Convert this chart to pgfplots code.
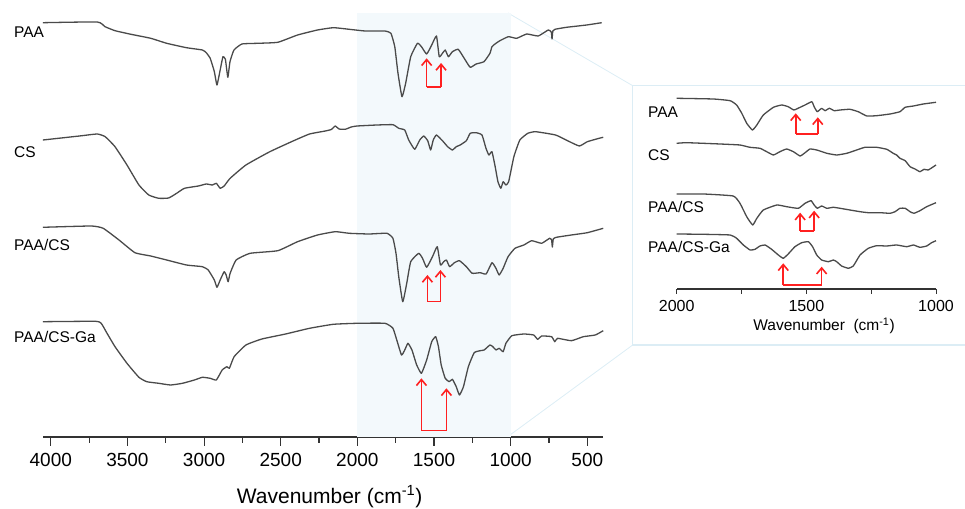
\documentclass[border=0pt]{standalone}
\usepackage{fontspec}
\setmainfont{Liberation Sans}
\usepackage{pgfplots}
\pgfplotsset{compat=1.18}
\usetikzlibrary{arrows.meta}
\definecolor{shadec}{HTML}{F3F9FC}
\definecolor{boxc}{HTML}{DCEDF5}
\definecolor{specc}{HTML}{4A4A4A}
\definecolor{axc}{HTML}{333333}
\definecolor{arrc}{HTML}{FF2020}
\tikzset{
  spec/.style={draw=specc, line width=1.3pt, line join=round, no marks, smooth, tension=0.25},
  arrline/.style={draw=arrc, line width=1.6pt},
  arrhead/.style={draw=arrc, line width=1.6pt, -{Straight Barb[length=6pt,width=10pt]}},
  lab/.style={inner sep=0pt, anchor=base west, font=\fontsize{15.5}{17}\selectfont},
}
\newcommand{\twoarrows}[5]{%
  \draw[arrline] (axis cs:#1,#4) -- (axis cs:#2,#4);
  \draw[arrhead] (axis cs:#1,#4) -- (axis cs:#1,#3);
  \draw[arrhead] (axis cs:#2,#4) -- (axis cs:#2,#5);
}
\begin{document}
\begin{tikzpicture}[x=1pt,y=1pt]
\useasboundingbox (0,0) rectangle (965,508);
% connectors and inset frame
\draw[boxc, line width=0.8pt] (508,495) -- (632.7,422.3);
\draw[boxc, line width=0.8pt] (510,73) -- (632.7,163);
\draw[boxc, line width=1.3pt] (632.7,163) rectangle (985,422.3);

\begin{axis}[
  at={(42.9pt,71pt)}, anchor=south west, scale only axis,
  width=560.1pt, height=424pt,
  xmin=397.6, xmax=4051.5, ymin=0, ymax=424, x dir=reverse,
  axis y line=none, axis x line*=bottom,
  x axis line style={-, draw=axc, line width=1.3pt},
  xtick={500,1000,...,4000}, minor x tick num=1,
  tick align=outside, major tick length=9pt, minor tick length=6pt,
  tick style={draw=axc, line width=1.1pt},
  xticklabel style={font=\fontsize{19}{21}\selectfont, yshift=-4pt},
  /pgf/number format/assume math mode=true,
  /pgf/number format/1000 sep={},
  clip=false,
]
\fill[shadec] (axis cs:2000,0) rectangle (axis cs:1000,424);
% PAA
\addplot[spec] table {
4051.5 414.3
3697 415
3646 410.3
3581 406.3
3477 402.7
3348 398.7
3244 393.7
3115 389.3
3011 387
2986 384.3
2960 378.7
2933 365.3
2916 352
2895 367
2877 380.3
2861 377.7
2845 359.7
2831 375.3
2805 387
2753 393
2648 393.7
2519 394.7
2390 402
2260 407
2157 409.3
2053 407.7
1950 406
1820 406
1781 403.7
1756 390.3
1735 363.7
1709 340.3
1685 353.7
1652 380.3
1608 393.7
1582 390.3
1548 383
1515 392
1484 401
1466 380.3
1445 383.7
1427 387
1406 380.3
1380 385.3
1342 387.7
1303 378.7
1264 369.7
1225 373
1174 375.3
1135 383.7
1122 390.3
1096 393.7
1070 396.3
1015 400.3
961 398.7
895 403
820 401
755 407
735 405
730 398
725 406
711 407.7
635 409.7
504 412
406 414.3
};
% CS
\addplot[spec] table {
4051.5 297
3813 301
3697 303
3645 300.3
3581 290.3
3503 272
3425 252
3361 242
3296 238.7
3231 239
3179 243.7
3128 248.7
3037 251
2986 253
2946 252
2920 253.7
2895 248.7
2869 251
2830 258.7
2727 272
2571 285.3
2415 296.3
2312 303
2209 306
2170 307.5
2144 311
2120 308
2079 307.7
2040 310
2002 311
1872 312
1768 312.3
1730 308.7
1691 307
1665 297
1626 287.7
1593 297
1567 301
1541 296.3
1522 287
1505 297
1484 302
1445 296.3
1411 290.3
1380 287
1355 290.3
1329 292
1289 296.3
1264 303.7
1225 304.3
1187 302
1161 288.7
1142 282
1122 285.3
1101 270.3
1083 255.3
1064 248.7
1049 255.3
1031 252
1013 255.3
979 280.3
940 297
888 303.7
837 305.3
707 302
629 296.3
552 291
500 295.3
423 298.7
396 299.7
};
% PAA/CS
\addplot[spec] table {
4051.5 209.7
3736 211
3658 208.7
3555 197
3451 184.3
3348 181
3244 177
3115 172
3011 170.3
2973 167
2933 157
2916 149.7
2895 157
2869 165.3
2856 162
2843 155.3
2830 163.7
2791 177
2700 183.7
2519 186.3
2390 195.3
2260 202
2144 205.3
2053 203.7
1924 203
1807 203.7
1768 198.7
1748 183.7
1730 160.3
1704 135.3
1678 153.7
1652 175.3
1600 183.7
1575 178.7
1548 169.7
1510 180.3
1479 190.3
1458 172
1437 175.3
1419 177
1398 170.3
1367 174.3
1334 176.3
1289 170.3
1251 163.7
1199 164.3
1160 163
1122 174.3
1096 168.7
1075 162
1049 168.7
1017 180.3
972 188.7
914 192
863 196.3
798 193.7
746 198.7
733 197
728 190
722 198
702 199.7
604 202
500 204.3
396 208.7
};
% PAA/CS-Ga
\addplot[spec] table {
4051.5 115.3
3710 115.7
3671 113.7
3633 103.7
3581 90.3
3503 73.7
3425 59.7
3374 55.3
3296 53.7
3219 52
3141 53.7
3063 57
3011 59.7
2960 58.7
2920 57
2882 67
2851 70.3
2835 68.7
2804 80.3
2727 92
2623 98
2468 103
2312 108.7
2157 112.7
2002 113.7
1820 113.7
1768 108.7
1743 97
1712 82
1691 87
1670 93.7
1644 87
1613 72
1582 63.7
1548 77
1515 95.3
1489 100.3
1471 90.3
1453 72
1427 58.7
1401 55.3
1380 57.7
1355 50.3
1334 42
1308 50.3
1276 70.3
1238 84.3
1199 86.3
1173 87
1135 92
1116 90.3
1096 87
1075 88.7
1049 85.3
1031 93.7
992 101.3
914 103
850 102
824 97.7
798 101
733 100.3
712 95.3
694 98.7
604 96.3
526 100.3
448 102
396 106.3
};
% arrows: x1, x2, tip1, base, tip2
\twoarrows{1548}{1454}{378.7}{349.7}{374}
\twoarrows{1543}{1458}{162}{135.3}{167}
\twoarrows{1582}{1419}{58.7}{6.3}{48.7}
\end{axis}

% inset
\begin{axis}[
  at={(676.7pt,219pt)}, anchor=south west, scale only axis,
  width=259.3pt, height=199pt,
  xmin=1000, xmax=2000, ymin=0, ymax=199, x dir=reverse,
  axis y line=none, axis x line*=bottom,
  x axis line style={-, draw=axc, line width=1.2pt},
  xtick={1000,1500,2000}, minor x tick num=1,
  tick align=outside, major tick length=5pt, minor tick length=5pt,
  tick style={draw=axc, line width=1pt},
  xticklabel style={font=\fontsize{16}{18}\selectfont, yshift=-3pt},
  /pgf/number format/assume math mode=true,
  /pgf/number format/1000 sep={},
  clip=false,
]
\addplot[spec] table {
2000 190.7
1859 190
1794 188.3
1769 184
1749 175.7
1730 165.7
1708 159
1691 164
1666 174
1627 181.7
1595 184
1570 182.3
1548 179
1524 181.7
1505 184
1479 187.3
1470 182.3
1458 177.3
1441 180.7
1428 178.3
1411 180.7
1393 178.3
1370 179
1332 179.7
1300 177.3
1267 173
1229 173.3
1177 175
1139 177.3
1119 181.7
1087 183
1049 185
1000 186.7
};
\addplot[spec] table {
2000 145.7
1961 146.3
1833 145
1756 144
1718 141.7
1679 140.7
1653 137.3
1627 134
1602 137.3
1576 140
1550 137.3
1524 133
1505 136.3
1486 140
1460 139
1421 135.7
1383 134
1344 135.7
1306 139
1274 141.7
1229 141.7
1190 139.7
1165 135.7
1152 134
1139 130.7
1119 128.3
1100 122.3
1081 120
1062 117.3
1046 119.7
1030 119
1000 124
};
\addplot[spec] table {
2000 95
1897 95
1782 93
1756 85.7
1730 72.3
1707 64
1691 70.7
1666 79
1614 84
1576 82.3
1531 80.7
1505 85.7
1482 88.3
1470 84
1458 80.7
1441 83
1421 80.7
1396 81.7
1370 80.7
1332 79
1293 77.3
1261 76.3
1216 76.3
1177 75.7
1158 77.3
1139 80.7
1119 80.7
1100 77.3
1085 75.7
1062 78.3
1036 82.3
1000 86.3
};
\addplot[spec] table {
2000 55
1897 54.7
1794 54
1769 50.7
1743 44
1717 39
1698 39.7
1679 43
1659 44
1634 39.7
1608 34
1589 30.7
1570 35
1544 42.3
1518 46.3
1492 47.3
1476 42.3
1460 34
1441 29
1415 27.3
1396 29
1383 27.3
1364 23
1338 20.7
1319 23
1293 34
1261 40.7
1229 43.3
1190 43
1152 44
1113 42.3
1087 44
1062 41.7
1036 43
1017 46.3
1000 48.3
};
\twoarrows{1541}{1456}{175.7}{155}{171.7}
\twoarrows{1524}{1470}{76.3}{58}{78.3}
\twoarrows{1589}{1441}{25.7}{4}{22.3}
\end{axis}

% series labels
\node[lab] at (14,470.8) {PAA};
\node[lab] at (14,350.5) {CS};
\node[lab] at (14,257.5) {PAA/CS};
\node[lab] at (14,165.5) {PAA/CS-Ga};
\node[lab] at (648,390.8) {PAA};
\node[lab] at (648,347.5) {CS};
\node[lab] at (648,295.5) {PAA/CS};
\node[lab] at (648,255.8) {PAA/CS-Ga};
% axis titles
\node[inner sep=0pt, anchor=base, font=\fontsize{21}{23}\selectfont] at (329.6,5) {Wavenumber (cm\textsuperscript{-1})};
\node[inner sep=0pt, anchor=base, font=\fontsize{15.5}{17}\selectfont] at (824,177.3) {Wavenumber\ \ (cm\textsuperscript{-1})};
\end{tikzpicture}
\end{document}
